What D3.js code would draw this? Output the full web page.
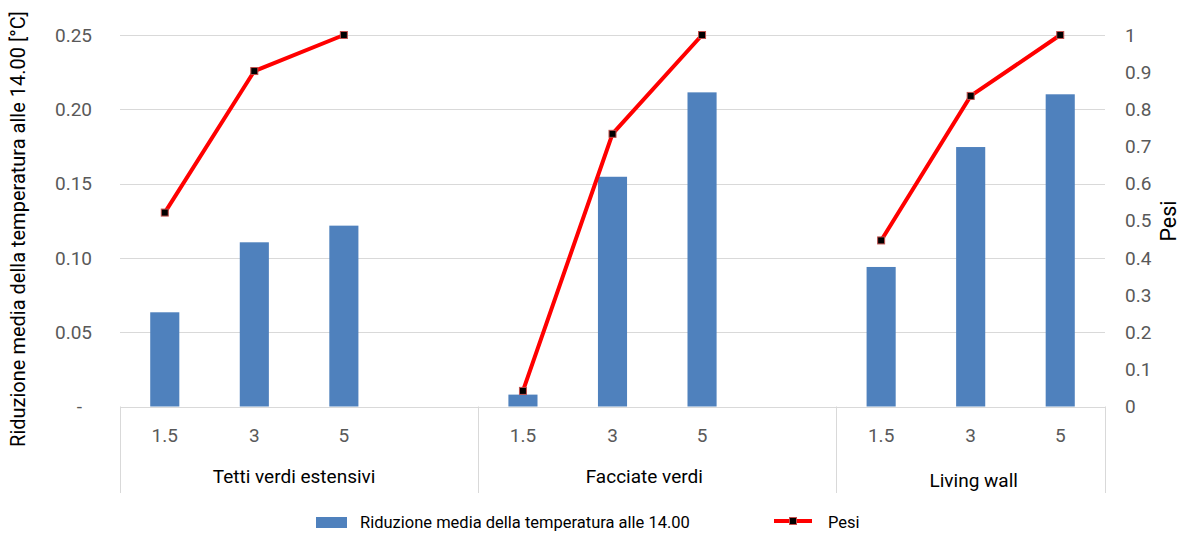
<!DOCTYPE html>
<html>
<head>
<meta charset="utf-8">
<script src="https://cdn.jsdelivr.net/npm/d3@7"></script>
<style>
    body { margin: 0; background: #fff; }
    svg text { font-family: Roboto, "Noto Sans", sans-serif; }
</style>
</head>
<body>
<div id="chart"></div>
<script>
// categories: three groups, each with thicknesses (cm); Excel leaves an empty slot at the end of the first two groups
var groups = ["Tetti verdi estensivi", "Facciate verdi", "Living wall"];
var thickness = ["1.5", "3", "5"];
var slotsPerGroup = [4, 4, 3];

// bar series (left axis) and line series (right axis), in group order
var riduzione = [0.0634, 0.1105, 0.1217, 0.0080, 0.1546, 0.2114, 0.0939, 0.1746, 0.2101];
var pesi = [0.522, 0.903, 1.0, 0.042, 0.734, 1.0, 0.447, 0.836, 1.0];

var leftTicks = [0, 0.05, 0.10, 0.15, 0.20, 0.25];
var rightTicks = [0, 0.1, 0.2, 0.3, 0.4, 0.5, 0.6, 0.7, 0.8, 0.9, 1];

var barName = "Riduzione media della temperatura alle 14.00";
var lineName = "Pesi";
var leftTitle = "Riduzione media della temperatura alle 14.00 [°C]";

window.onload = function () {
    draw();
}

function draw() {
    var width = 1190, height = 533;
    var left = 120, right = 1105, top = 35, bottom = 406.5;
    var tickSize = 19;

    // build the slot list: one slot per category, blank slots keep Excel's spacing
    var slots = [];
    var points = [];
    var k = 0;
    groups.forEach(function (g, gi) {
        for (var s = 0; s < slotsPerGroup[gi]; s++) {
            var id = gi + "_" + s;
            slots.push(id);
            if (s < thickness.length) {
                points.push({ id: id, group: gi, label: thickness[s], bar: riduzione[k], line: pesi[k] });
                k++;
            }
        }
    });

    var x = d3.scaleBand().domain(slots).range([left, right]).paddingInner(0.675).paddingOuter(0.3375);
    var xSlot = d3.scaleBand().domain(slots).range([left, right]);
    var yL = d3.scaleLinear().domain([0, 0.25]).range([bottom, top]);
    var yR = d3.scaleLinear().domain([0, 1]).range([bottom, top]);

    var svg = d3.select("#chart")
        .append("svg")
        .attr("width", width)
        .attr("height", height);

    // gridlines
    svg.append("g")
        .selectAll("line")
        .data(leftTicks.slice(1))
        .enter()
        .append("line")
        .attr("x1", left)
        .attr("x2", right)
        .attr("y1", function (d) { return Math.round(yL(d)) + 0.5; })
        .attr("y2", function (d) { return Math.round(yL(d)) + 0.5; })
        .attr("stroke", "#d9d9d9")
        .attr("stroke-width", 1);

    // left axis labels
    svg.append("g")
        .selectAll("text")
        .data(leftTicks)
        .enter()
        .append("text")
        .attr("x", function (d) { return d === 0 ? 82 : 92; })
        .attr("y", function (d) { return yL(d); })
        .attr("dy", "0.35em")
        .attr("text-anchor", "end")
        .attr("font-size", tickSize)
        .attr("fill", "#595959")
        .text(function (d) { return d === 0 ? "-" : d3.format(".2f")(d); });

    // right axis labels
    svg.append("g")
        .selectAll("text")
        .data(rightTicks)
        .enter()
        .append("text")
        .attr("x", 1125)
        .attr("y", function (d) { return yR(d); })
        .attr("dy", "0.35em")
        .attr("font-size", tickSize)
        .attr("fill", "#595959")
        .text(function (d) { return d3.format("")(d); });

    // axis titles
    svg.append("text")
        .attr("transform", "translate(18," + 229 + ") rotate(-90)")
        .attr("dy", "0.35em")
        .attr("text-anchor", "middle")
        .attr("font-size", 20)
        .attr("fill", "#000")
        .text(leftTitle);
    svg.append("text")
        .attr("transform", "translate(1168," + 221 + ") rotate(-90)")
        .attr("dy", "0.35em")
        .attr("text-anchor", "middle")
        .attr("font-size", 21.5)
        .attr("fill", "#000")
        .text(lineName);

    // bars
    svg.append("g")
        .selectAll("rect")
        .data(points)
        .enter()
        .append("rect")
        .attr("x", function (d) { return x(d.id); })
        .attr("width", x.bandwidth())
        .attr("y", function (d) { return yL(d.bar); })
        .attr("height", function (d) { return yL(0) - yL(d.bar); })
        .attr("fill", "#4f81bd");

    // category axis: baseline + group dividers
    var axis = svg.append("g").attr("stroke", "#d9d9d9").attr("stroke-width", 1);
    axis.append("line")
        .attr("x1", left).attr("x2", right)
        .attr("y1", Math.round(bottom) + 0.5).attr("y2", Math.round(bottom) + 0.5);
    var dividers = [];
    var acc = 0;
    dividers.push(xSlot(slots[0]));
    slotsPerGroup.forEach(function (n) {
        acc += n;
        dividers.push(acc < slots.length ? xSlot(slots[acc]) : right);
    });
    axis.selectAll(".div")
        .data(dividers)
        .enter()
        .append("line")
        .attr("x1", function (d) { return Math.round(d) + 0.5; })
        .attr("x2", function (d) { return Math.round(d) + 0.5; })
        .attr("y1", bottom)
        .attr("y2", 493);

    svg.append("g")
        .selectAll("text")
        .data(points)
        .enter()
        .append("text")
        .attr("x", function (d) { return xSlot(d.id) + xSlot.bandwidth() / 2; })
        .attr("y", 435)
        .attr("dy", "0.35em")
        .attr("text-anchor", "middle")
        .attr("font-size", tickSize)
        .attr("fill", "#595959")
        .text(function (d) { return d.label; });

    // Excel nudges the group labels a little off the group centre
    var groupNudge = [-5, -13, 3];
    svg.append("g")
        .selectAll("text")
        .data(groups)
        .enter()
        .append("text")
        .attr("x", function (d, i) { return (dividers[i] + dividers[i + 1]) / 2 + groupNudge[i]; })
        .attr("y", function (d, i) { return i === 2 ? 480 : 476; })
        .attr("dy", "0.35em")
        .attr("text-anchor", "middle")
        .attr("font-size", 19)
        .attr("fill", "#000")
        .text(function (d) { return d; });

    // line series, broken between groups
    var line = d3.line()
        .x(function (d) { return xSlot(d.id) + xSlot.bandwidth() / 2; })
        .y(function (d) { return yR(d.line); });
    var byGroup = d3.groups(points, function (d) { return d.group; });
    svg.append("g")
        .selectAll("path")
        .data(byGroup)
        .enter()
        .append("path")
        .attr("d", function (d) { return line(d[1]); })
        .attr("fill", "none")
        .attr("stroke", "#ff0000")
        .attr("stroke-width", 4);

    svg.append("g")
        .selectAll("rect")
        .data(points)
        .enter()
        .append("rect")
        .attr("x", function (d) { return xSlot(d.id) + xSlot.bandwidth() / 2 - 3.5; })
        .attr("y", function (d) { return yR(d.line) - 3.5; })
        .attr("width", 7)
        .attr("height", 7)
        .attr("fill", "#000")
        .attr("stroke", "#c0504d")
        .attr("stroke-width", 1);

    // legend
    var legend = svg.append("g");
    legend.append("rect")
        .attr("x", 316).attr("y", 517)
        .attr("width", 31).attr("height", 11)
        .attr("fill", "#4f81bd");
    legend.append("text")
        .attr("x", 360).attr("y", 522)
        .attr("dy", "0.35em")
        .attr("font-size", 16.5)
        .attr("fill", "#000")
        .text(barName);
    legend.append("line")
        .attr("x1", 774).attr("x2", 812)
        .attr("y1", 521).attr("y2", 521)
        .attr("stroke", "#ff0000")
        .attr("stroke-width", 4);
    legend.append("rect")
        .attr("x", 789.5).attr("y", 517.5)
        .attr("width", 7).attr("height", 7)
        .attr("fill", "#000")
        .attr("stroke", "#c0504d");
    legend.append("text")
        .attr("x", 828).attr("y", 522)
        .attr("dy", "0.35em")
        .attr("font-size", 16.5)
        .attr("fill", "#000")
        .text(lineName);
}
</script>
</body>
</html>
